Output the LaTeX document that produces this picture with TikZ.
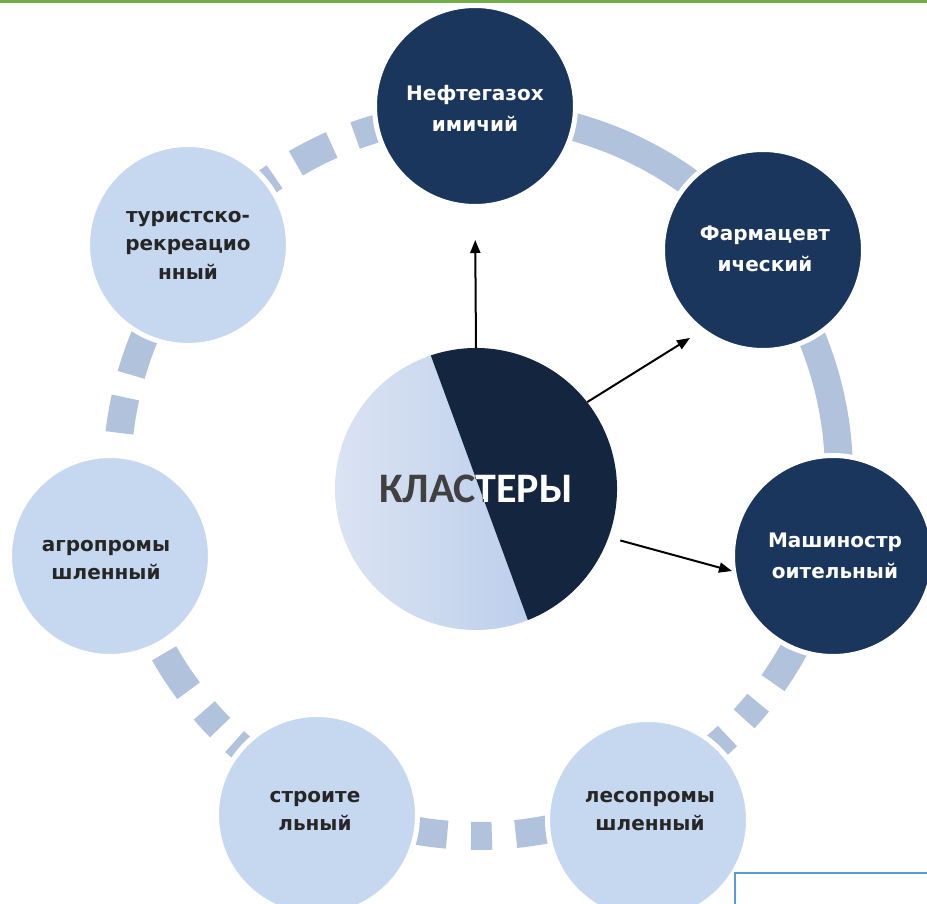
\documentclass[tikz,border=0pt]{standalone}
\usepackage{fontspec}
\usetikzlibrary{arrows.meta,calc}
\newfontfamily\lblfont{DejaVu Sans}
\newfontfamily\bigfont{Carlito}
\definecolor{navy}{HTML}{1A365D}
\definecolor{pale}{HTML}{C6D8EF}
\definecolor{ringc}{HTML}{B1C2DD}
\definecolor{cdark}{HTML}{13253F}
\definecolor{lightA}{HTML}{DDE5F3}
\definecolor{lightB}{HTML}{BDCFEC}
\definecolor{txtdark}{HTML}{262626}
\definecolor{txtgray}{HTML}{404040}
\definecolor{topgreen}{HTML}{70AD47}
\definecolor{boxblue}{HTML}{5B9BD5}
\tikzset{
 ringline/.style={line width=28pt, draw=ringc, line cap=butt},
 bubble/.style={circle, inner sep=0pt, minimum size=201pt, draw=white, line width=5pt},
 darkbubble/.style={bubble, fill=navy},
 lightbubble/.style={bubble, fill=pale},
 darktext/.style={align=center, inner sep=0pt, text=white, font=\lblfont\bfseries\fontsize{20}{31}\selectfont},
 lighttext/.style={align=center, inner sep=0pt, text=txtdark, font=\lblfont\bfseries\fontsize{20}{28.5}\selectfont},
 bigtext/.style={font=\bigfont\bfseries\fontsize{42}{44}\selectfont, inner sep=0pt},
 arr/.style={line width=2pt, draw=black, -{Triangle[length=13pt,width=10pt]}},
}
\newcommand\rarc[2]{\draw[ringline] ([shift={(#1:361)}]rc) arc[start angle=#1, end angle=#2, radius=361];}
\begin{document}
\begin{tikzpicture}[x=1pt,y=1pt]
\useasboundingbox (0,0) rectangle (927,-904);
\clip (0,0) rectangle (927,-904);
\fill[white] (0,0) rectangle (927,-904);
\coordinate (rc) at (478,-475);
% ring
\rarc{92}{-13}
\rarc{-24}{-35.2}\rarc{-39.1}{-42.5}\rarc{-46.3}{-56}
\rarc{-76}{-84}\rarc{-87.8}{-91.1}\rarc{-94.9}{-104}
\rarc{-125}{-132.4}\rarc{-135.6}{-139.3}\rarc{-143.3}{-150.4}
\rarc{154}{163.9}\rarc{167.6}{173.3}
\rarc{124.3}{132}\rarc{113.9}{120.3}\rarc{100}{109.9}
% outer circles
\node[darkbubble] (n1) at (475,-106) {};
\node[darkbubble] (n2) at (763,-250) {};
\node[darkbubble] (n3) at (833,-556) {};
\node[lightbubble] (n4) at (648,-820) {};
\node[lightbubble] (n5) at (317,-815) {};
\node[lightbubble] (n6) at (110,-556) {};
\node[lightbubble] (n7) at (188,-245) {};
\node[darktext] (l1) at ([yshift=-2]n1.center) {Нефтегазох\\имичий};
\node[darktext] (l2) at ([xshift=2,yshift=1]n2.center) {Фармацевт\\ический};
\node[darktext] (l3) at ([xshift=2]n3.center) {Машиностр\\оительный};
\node[lighttext] (l4) at ([xshift=2,yshift=9]n4.center) {лесопромы\\шленный};
\node[lighttext] (l5) at ([xshift=-2,yshift=4]n5.center) {строите\\льный};
\node[lighttext] (l6) at ([xshift=-4,yshift=-4]n6.center) {агропромы\\шленный};
\node[lighttext] (l7) at (n7.center) {туристско-\\рекреацио\\нный};
% centre circle
\node[circle, minimum size=282pt, inner sep=0pt] (c) at (476,-489) {};
\coordinate (ct) at ([shift={(108.7:141)}]c.center);
\coordinate (cb) at ([shift={(-68.4:141)}]c.center);
\shade[left color=lightA, right color=lightB] (ct) arc[start angle=108.7, end angle=291.6, radius=141] -- cycle;
\fill[cdark] (cb) arc[start angle=-68.4, end angle=108.7, radius=141] -- cycle;
\begin{scope}
\clip (ct) arc[start angle=108.7, end angle=291.6, radius=141] -- cycle;
\node[bigtext, text=txtgray] (k1) at (c.center) {КЛАСТЕРЫ};
\end{scope}
\begin{scope}
\clip (cb) arc[start angle=-68.4, end angle=108.7, radius=141] -- cycle;
\node[bigtext, text=white] (k2) at (c.center) {КЛАСТЕРЫ};
\end{scope}
% arrows
\coordinate (t2) at (690,-338);
\coordinate (t3) at (732,-571);
\draw[arr, shorten >=31pt] (c.north) -- (n1.south);
\draw[arr] (c.38) -- (t2);
\draw[arr, shorten <=12pt] (c.-20) -- (t3);
% extras
\draw[boxblue, line width=2.5pt] (735,-873) rectangle (945,-930);
\fill[topgreen] (0,0) rectangle (927,-3.5);
\end{tikzpicture}
\end{document}
